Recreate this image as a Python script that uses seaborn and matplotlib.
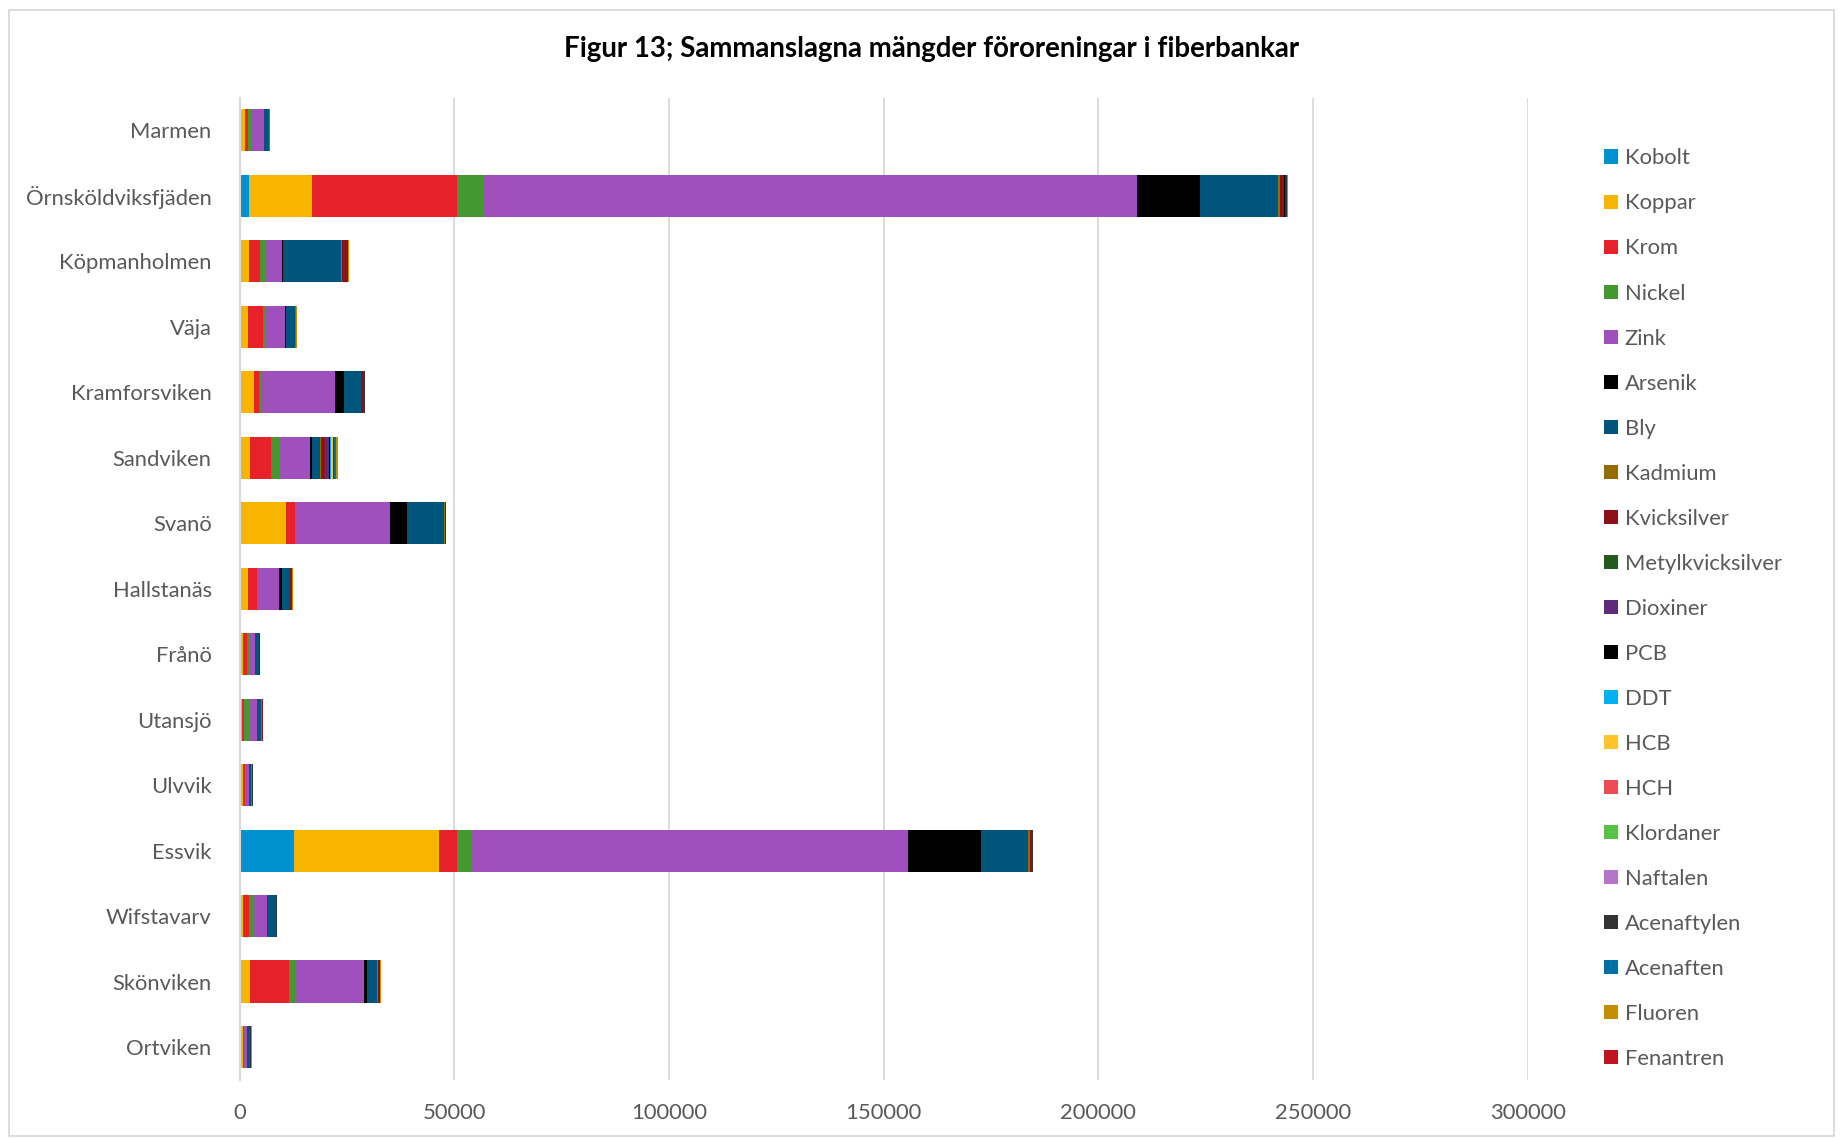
import numpy as np
import pandas as pd
import matplotlib
matplotlib.use("Agg")
import matplotlib.pyplot as plt
import seaborn as sns
from matplotlib.patches import Patch, Rectangle

# ---------------- data ----------------
categories = ["Marmen", "Örnsköldviksfjäden", "Köpmanholmen", "Väja", "Kramforsviken",
              "Sandviken", "Svanö", "Hallstanäs", "Frånö", "Utansjö", "Ulvvik",
              "Essvik", "Wifstavarv", "Skönviken", "Ortviken"]

series_names = ["Kobolt", "Koppar", "Krom", "Nickel", "Zink", "Arsenik", "Bly", "Kadmium",
                "Kvicksilver", "Metylkvicksilver", "Dioxiner", "PCB", "DDT", "HCB", "HCH",
                "Klordaner", "Naftalen", "Acenaftylen", "Acenaften", "Fluoren", "Fenantren"]

kobolt      = [0, 2100, 0, 0, 230, 230, 0, 0, 0, 0, 0, 12800, 0, 230, 0]
koppar      = [1240, 14700, 2250, 2020, 3260, 2100, 10940, 2020, 850, 620, 780, 33600, 700, 2250, 780]
krom        = [850, 33800, 2480, 3410, 1010, 4890, 2100, 2020, 850, 540, 400, 4200, 1470, 9000, 200]
nickel      = [540, 6400, 1160, 470, 700, 1940, 200, 300, 470, 1010, 100, 3400, 1010, 1780, 100]
zink        = [3030, 152100, 4110, 4660, 16990, 7370, 21800, 4890, 1550, 1940, 1010, 101800, 3180, 15830, 780]
arsenik     = [0, 14700, 150, 250, 2100, 390, 4040, 620, 0, 0, 0, 16900, 0, 700, 0]
bly         = [1320, 18100, 13580, 2230, 3960, 1860, 8570, 1940, 780, 1010, 400, 11000, 2100, 2250, 300]
kadmium     = [50, 500, 100, 50, 100, 100, 150, 50, 50, 200, 150, 300, 50, 310, 100]
kvicksilver = [50, 800, 1400, 50, 620, 930, 100, 310, 50, 50, 50, 600, 50, 100, 50]
metylkvicksilver = [0, 50, 0, 0, 0, 50, 0, 0, 0, 0, 0, 0, 0, 0, 0]
dioxiner    = [0, 100, 0, 0, 0, 1000, 0, 0, 0, 0, 100, 0, 0, 0, 200]
pcb         = [0, 50, 0, 0, 0, 230, 0, 0, 0, 0, 0, 0, 0, 0, 0]
ddt         = [0, 0, 0, 0, 0, 300, 0, 0, 0, 0, 0, 0, 0, 0, 0]
hcb         = [0, 0, 0, 0, 0, 300, 0, 0, 0, 0, 0, 0, 0, 0, 0]
hch         = [0, 0, 0, 0, 0, 0, 0, 0, 0, 0, 0, 0, 0, 0, 0]
klordaner   = [0, 0, 0, 0, 0, 0, 0, 0, 0, 0, 0, 0, 0, 0, 0]
naftalen    = [0, 200, 0, 0, 0, 0, 0, 0, 0, 0, 0, 0, 0, 0, 0]
acenaftylen = [100, 400, 150, 100, 200, 250, 100, 150, 100, 150, 100, 150, 200, 300, 250]
acenaften   = [0, 0, 0, 0, 0, 620, 0, 0, 0, 0, 0, 0, 0, 0, 0]
fluoren     = [0, 200, 100, 50, 50, 400, 50, 50, 0, 50, 0, 50, 50, 200, 50]
fenantren   = [0, 100, 0, 0, 0, 0, 0, 0, 0, 0, 0, 0, 0, 0, 0]

series_values = [kobolt, koppar, krom, nickel, zink, arsenik, bly, kadmium, kvicksilver,
                 metylkvicksilver, dioxiner, pcb, ddt, hcb, hch, klordaner, naftalen,
                 acenaftylen, acenaften, fluoren, fenantren]

colors = ["#0091D1", "#F7B500", "#E62129", "#43992F", "#A050BC", "#000000", "#00557D",
          "#956C00", "#8E1018", "#255A1E", "#5F2C7C", "#000000", "#00B0F0", "#FFC32C",
          "#EE4C55", "#59C145", "#B376C9", "#333333", "#0071A6", "#C58D00", "#C0141E"]

x_ticks = [0, 50000, 100000, 150000, 200000, 250000, 300000]
title = "Figur 13; Sammanslagna mängder föroreningar i fiberbankar"

# ---------------- plot ----------------
sns.set_theme(style="white")
plt.rcParams['font.family'] = ['Lato', 'DejaVu Sans']

W, H = 1841, 1139
fig = plt.figure(figsize=(W / 100, H / 100), dpi=100)
fig.patch.set_facecolor("white")

ax_left, ax_right, ax_top, ax_bottom = 239.5, 1527.6, 97.6, 1079.8
ax = fig.add_axes([ax_left / W, 1 - ax_bottom / H, (ax_right - ax_left) / W, (ax_bottom - ax_top) / H])

df = pd.DataFrame(dict(zip(series_names, series_values)), index=categories)
cum = df.cumsum(axis=1)

for i in reversed(range(len(series_names))):
    name = series_names[i]
    sns.barplot(x=cum[name].values, y=categories, order=categories, color=colors[i],
                orient="h", width=0.645, saturation=1, linewidth=0, errorbar=None, ax=ax)

ax.set_xlim(0, 300000)
ax.set_xticks(x_ticks)
ax.set_xticklabels([str(t) for t in x_ticks])
ax.set_xlabel("")
ax.set_ylabel("")
ax.grid(axis="x", color="#D9D9D9", linewidth=1.3)
ax.grid(axis="y", visible=False)
ax.set_axisbelow(True)
for s in ["top", "right", "bottom"]:
    ax.spines[s].set_visible(False)
ax.spines["left"].set_color("#D9D9D9")
ax.spines["left"].set_linewidth(1.5)
ax.tick_params(axis="both", length=0, labelsize=15.8, labelcolor="#595959")
ax.tick_params(axis="y", pad=20)
ax.tick_params(axis="x", pad=17)

fig.text(932 / W, 1 - 49 / H, title, ha="center", va="center", fontsize=19.9,
         fontweight="bold", color="#000000")

handles = [Patch(facecolor=c, edgecolor="none", label=n) for n, c in zip(series_names, colors)]
fig.legend(handles=handles, loc="upper left", bbox_to_anchor=(0.8607, 0.887), frameon=False,
           fontsize=15.8, labelcolor="#595959", handlelength=0.64, handleheight=0.64,
           handletextpad=0.29, labelspacing=1.14, borderpad=0.4)

fig.patches.append(Rectangle((9 / W, 1 - 1136 / H), (1834 - 9) / W, (1136 - 10) / H,
                             transform=fig.transFigure, fill=False, edgecolor="#D9D9D9",
                             linewidth=1.3))

fig.savefig("out.png", dpi=100, facecolor="white")
